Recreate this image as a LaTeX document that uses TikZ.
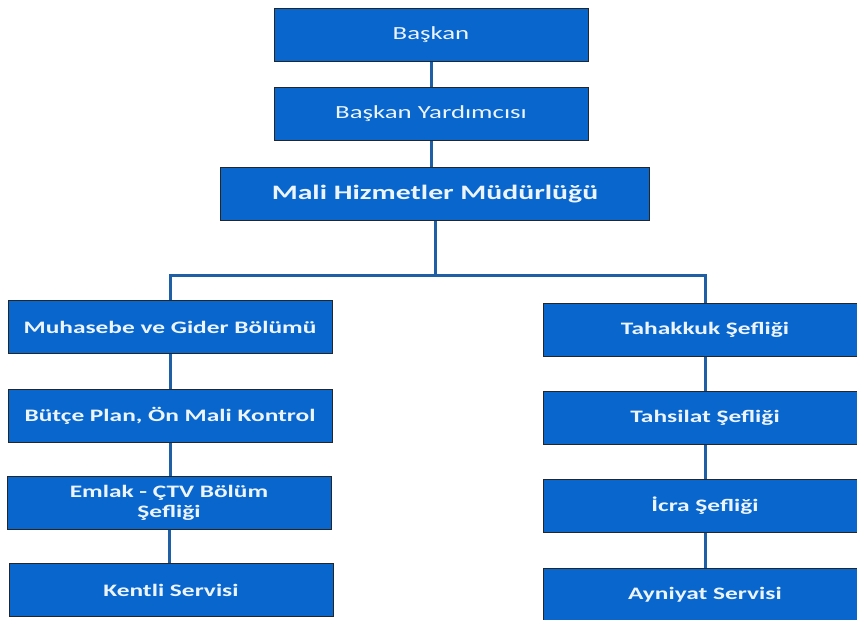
\documentclass[tikz,border=0pt]{standalone}
\usepackage{fontspec}
\setmainfont{Carlito}[FakeStretch = 1.45]
\definecolor{boxblue}{RGB}{8,102,204}
\definecolor{linkblue}{RGB}{30,95,165}
\definecolor{boxtext}{RGB}{236,244,255}

\begin{document}
\begin{tikzpicture}[x = 1pt, y = -1pt,
	unit/.style = {draw = black!85, line width = 0.8pt, fill = boxblue,
		text = boxtext, font = \bfseries\fontsize{17.5}{20}\selectfont,
		minimum width = 324pt, minimum height = 53pt, inner sep = 0pt,
		align = center},
	link/.style = {draw = linkblue, line width = 3pt}]

	% Frame of the page
	
	\useasboundingbox (0, 0) rectangle (857, 619);
	
	% Top of the chart
	
	\node [unit, minimum width = 314pt, font = \fontsize{18.5}{20}\selectfont] (bas) at (431, 35) {Başkan};
	\node [unit, minimum width = 314pt, font = \fontsize{18.5}{20}\selectfont] (yrd) at (431, 114) {Başkan Yardımcısı};
	\node [unit, minimum width = 429pt, font = \bfseries\fontsize{20.5}{22}\selectfont] (mali) at (435, 194) {Mali Hizmetler Müdürlüğü};
	
	% Left column
	
	\node [unit] (muh) at (170, 327) {Muhasebe ve Gider Bölümü};
	\node [unit] (but) at (170, 416) {Bütçe Plan, Ön Mali Kontrol};
	\node [unit] (eml) at (169, 503) {Emlak - ÇTV Bölüm\\Şefliği};
	\node [unit] (ken) at (171, 590) {Kentli Servisi};
	
	% Right column
	
	\node [unit] (tah) at (705, 330) {Tahakkuk Şefliği};
	\node [unit] (tsl) at (705, 418) {Tahsilat Şefliği};
	\node [unit] (icr) at (705, 506) {İcra Şefliği};
	\node [unit] (ayn) at (705, 595) {Ayniyat Servisi};
	
	% Connectors
	
	\coordinate (bar) at (435, 275);
	
	\begin{scope}[on background layer/.try]
	
		\draw [link] (bas.south) -- (yrd.north);
		\draw [link] (yrd.south) -- (yrd.south |- mali.north);
		\draw [link] (mali.south) -- (bar);
		\draw [link] (muh.north) |- (bar) -| (tah.north);
		
		\draw [link] (muh.south) -- (but.north);
		\draw [link] (but.south) -- (but.south |- eml.north);
		\draw [link] (eml.south) -- (eml.south |- ken.north);
		
		\draw [link] (tah.south) -- (tsl.north);
		\draw [link] (tsl.south) -- (icr.north);
		\draw [link] (icr.south) -- (ayn.north);
		
	\end{scope}

\end{tikzpicture}
\end{document}
